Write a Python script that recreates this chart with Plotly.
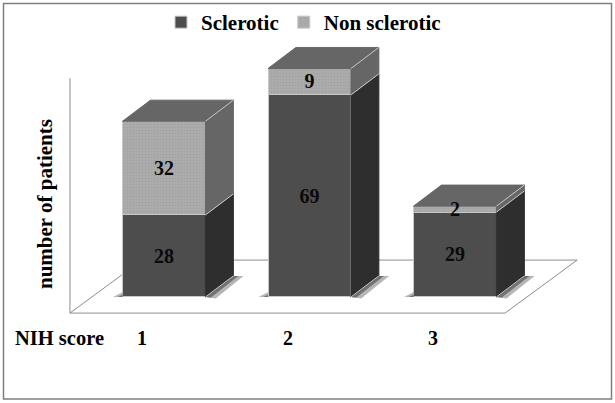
import plotly.graph_objects as go

# values
categories = [1, 2, 3]
tick_labels = ["1", "2", "3"]
sclerotic = [28, 69, 29]
non_sclerotic = [32, 9, 2]

# fake 3D look, everything in data units
BAR_WIDTH = 0.57
DEPTH_X = 0.192
DEPTH_Y = 7.2
HALF = BAR_WIDTH / 2
LABEL_DROP = 0.6

FONT = "Liberation Serif"
DARK_FRONT = "#4d4d4d"
DARK_SIDE = "#2e2e2e"
LIGHT_FRONT = "#a9a9a9"
LIGHT_SIDE = "#666666"
TOP = "#666666"
EDGE = "#c8c8c8"
AXIS_LINE = "#8c8c8c"
NONE = "rgba(0,0,0,0)"


def face(fig, xs, ys, color, line_color=None):
    fig.add_trace(go.Scatter(
        x=xs, y=ys, mode="lines", fill="toself", fillcolor=color,
        line=dict(color=line_color or color, width=1), hoverinfo="skip", showlegend=False,
    ))


def edge(fig, xs, ys):
    fig.add_trace(go.Scatter(
        x=xs, y=ys, mode="lines", line=dict(color=EDGE, width=1),
        hoverinfo="skip", showlegend=False,
    ))


fig = go.Figure()

# front faces
fig.add_trace(go.Bar(
    x=categories, y=sclerotic, name="Sclerotic", width=BAR_WIDTH,
    marker=dict(color=DARK_FRONT, line=dict(color=EDGE, width=1)),
))
fig.add_trace(go.Bar(
    x=categories, y=non_sclerotic, name="Non sclerotic", width=BAR_WIDTH,
    marker=dict(
        color=LIGHT_FRONT, line=dict(color=EDGE, width=1),
        pattern=dict(shape=".", size=3, solidity=0.4, fgcolor="#989898", bgcolor="#adadad"),
    ),
))

# soft shadows on the floor, two layers to fake the blur
for c in categories:
    r = c + HALF
    l = c - HALF
    for grow, alpha in [(1.0, 0.4), (0.5, 0.6)]:
        color = f"rgba(70,70,70,{alpha})"
        face(fig, [l - 0.065 * grow, l, l], [0, 0, DEPTH_Y * 0.22 * grow], color, NONE)
        face(fig, [r, r + 0.07 * grow, r + DEPTH_X + 0.07 * grow, r + DEPTH_X],
             [0, -0.5 * grow, DEPTH_Y, DEPTH_Y], color, NONE)

# side and top faces
for c, low, high in zip(categories, sclerotic, non_sclerotic):
    r = c + HALF
    l = c - HALF
    total = low + high
    face(fig, [r, r + DEPTH_X, r + DEPTH_X, r, r],
         [0, DEPTH_Y, low + DEPTH_Y, low, 0], DARK_SIDE)
    face(fig, [r, r + DEPTH_X, r + DEPTH_X, r, r],
         [low, low + DEPTH_Y, total + DEPTH_Y, total, low], LIGHT_SIDE)
    face(fig, [l, r, r + DEPTH_X, l + DEPTH_X, l],
         [total, total, total + DEPTH_Y, total + DEPTH_Y, total], TOP)
    for level in (0, low, total):
        edge(fig, [r, r + DEPTH_X], [level, level + DEPTH_Y])

# value labels in the middle of each segment
fig.add_trace(go.Scatter(
    x=categories * 2,
    y=[v / 2 - LABEL_DROP for v in sclerotic]
      + [a + b / 2 - LABEL_DROP for a, b in zip(sclerotic, non_sclerotic)],
    text=[f"<b>{v}</b>" for v in sclerotic + non_sclerotic],
    mode="text", textposition="middle center",
    textfont=dict(family=FONT, size=20, color="#0a0a0a"),
    hoverinfo="skip", showlegend=False,
))

# category labels sit left of the bars, as in the original
for c, t in zip(categories, tick_labels):
    fig.add_annotation(
        x=c - 0.15, y=-14.0, text=f"<b>{t}</b>", showarrow=False,
        font=dict(family=FONT, size=20, color="black"),
    )
fig.add_annotation(
    x=59 / 615, y=1 - 338 / 403, xref="paper", yref="paper", text="<b>NIH score</b>",
    xanchor="center", yanchor="middle",
    showarrow=False, font=dict(family=FONT, size=20.5, color="black"),
)
fig.add_annotation(
    x=45 / 615, y=1 - 204 / 403, xref="paper", yref="paper", text="<b>number of patients</b>",
    xanchor="center", yanchor="middle",
    textangle=-90, showarrow=False, font=dict(family=FONT, size=21, color="black"),
)

# floor and wall lines
floor = dict(type="line", line=dict(color=AXIS_LINE, width=1), layer="below")
fig.add_shape(x0=0.354, y0=-5.5, x1=0.354, y1=74.7, **floor)
fig.add_shape(x0=0.354, y0=-5.5, x1=3.344, y1=-5.5, **floor)
fig.add_shape(x0=3.344, y0=-5.5, x1=3.84, y1=12.6, **floor)
fig.add_shape(x0=0.354, y0=-5.5, x1=0.849, y1=12.6, **floor)
fig.add_shape(x0=0.849, y0=12.6, x1=3.84, y1=12.6, **floor)

# picture frame
fig.add_shape(
    type="rect", xref="paper", yref="paper",
    x0=3.5 / 615, x1=611.5 / 615, y0=1 - 399 / 403, y1=1 - 3.5 / 403,
    line=dict(color="#7f7f7f", width=1.5), layer="below",
)

fig.update_layout(
    width=615, height=403,
    margin=dict(l=0, r=0, t=0, b=0),
    paper_bgcolor="white", plot_bgcolor="white",
    barmode="stack",
    showlegend=True,
    legend=dict(
        orientation="h", x=161 / 615, y=1 - 2 / 403, xanchor="left", yanchor="top",
        traceorder="normal",
        font=dict(family=FONT, size=21, color="black", weight="bold"),
        itemwidth=30, bgcolor="rgba(0,0,0,0)",
    ),
    xaxis=dict(range=[-0.127, 4.1], visible=False),
    yaxis=dict(range=[-36.2, 101.4], visible=False),
)

# the page body has a default margin, drop it so the chart fills the window
fig.write_html(
    "out.html",
    config={"displayModeBar": False},
    post_script="document.body.style.margin='0';",
)
